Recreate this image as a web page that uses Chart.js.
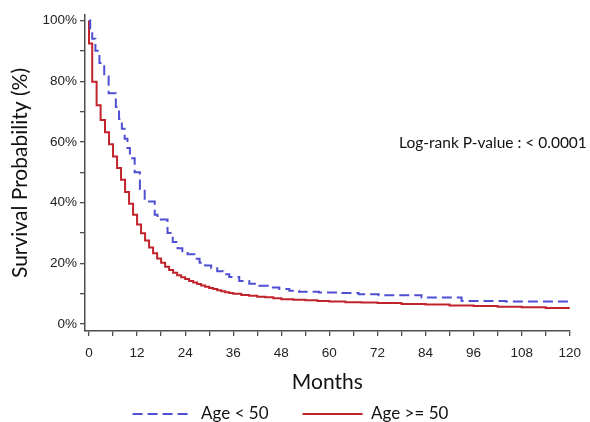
<!DOCTYPE html>
<html>
<head>
<meta charset="utf-8">
<script src="https://cdn.jsdelivr.net/npm/chart.js@4/dist/chart.umd.min.js"></script>
<style>
  body { margin: 0; background: #fff; }
</style>
</head>
<body>
<canvas id="kmChart" width="590" height="422"></canvas>
<script>
// Kaplan-Meier survival (months, survival %)
const youngLabel = 'Age < 50';
const youngMonths = [0, 0.3, 0.8, 1.6, 2.6, 3.8, 4.9, 6.7, 7.5, 8.2, 8.9, 9.6, 10.2, 11.4, 12.7, 13.9, 16.4, 17.1, 19.6, 20.9,
  22.1, 23.3, 24.6, 26.3, 27.6, 29, 30.5, 32, 33.5, 35, 37.5, 40, 42.5, 45, 47.5, 50, 52.4, 57.4, 62, 67.3,
  72.3, 83, 93, 104, 120];
const youngSurv = [100, 97, 94, 90, 86, 81.5, 76, 71.5, 67.5, 64.3, 61, 58, 54.6, 50, 44.5, 40.4, 36, 34.4, 30, 27,
  25, 24, 23, 21.5, 20.2, 19.3, 18.4, 17.4, 16.4, 15.5, 14.2, 13.3, 12.6, 12, 11.5, 11, 10.6, 10.4, 10.2, 9.8,
  9.5, 8.7, 7.6, 7.4, 7.3];

const oldLabel = 'Age >= 50';
const oldMonths = [0, 0, 0.8, 1.9, 2.9, 4, 5, 6, 7, 8, 9, 10, 11, 12, 13, 14, 15, 16, 17, 18, 19, 20,
  21, 22, 23, 24, 25, 26, 27, 28, 29, 30, 31, 32, 33, 34, 35, 36, 38, 40, 42, 44, 46, 48,
  51, 54, 57, 60, 64, 68, 72, 78, 84, 90, 96, 102, 108, 114, 120];
const oldSurv = [100, 92.4, 79.8, 72.1, 67.2, 63.2, 59.2, 55.2, 51.4, 47.5, 43.5, 39.6, 36.0, 32.8, 29.9, 27.5, 25.2, 23.3, 21.6, 20.2, 18.9, 17.8,
  16.9, 16.1, 15.4, 14.8, 14.2, 13.7, 13.2, 12.7, 12.3, 11.9, 11.5, 11.1, 10.8, 10.5, 10.2, 10.0, 9.6, 9.3, 9.0, 8.8, 8.5, 8.2,
  8.0, 7.8, 7.6, 7.4, 7.2, 7.05, 6.9, 6.6, 6.4, 6.1, 5.9, 5.7, 5.5, 5.3, 5.1];

const xTicks = [0, 6, 12, 18, 24, 30, 36, 42, 48, 54, 60, 66, 72, 78, 84, 90, 96, 102, 108, 114, 120];
const yTicks = [0, 10, 20, 30, 40, 50, 60, 70, 80, 90, 100];
const pValueText = 'Log-rank P-value : < 0.0001';

const toPoints = (xs, ys) => xs.map((x, i) => ({ x: x, y: ys[i] }));

const axisColor = '#4d4d4d';
const tickFont = { family: "'Liberation Sans', Arial, sans-serif", size: 13.5 };
const titleFont = { family: 'Lato, sans-serif', size: 21 };

// p-value annotation, placed in data space
const pValuePlugin = {
  id: 'pValue',
  afterDraw(chart) {
    const { ctx, scales } = chart;
    ctx.save();
    ctx.font = '15.5px Lato, sans-serif';
    ctx.fillStyle = '#111';
    ctx.textAlign = 'left';
    ctx.textBaseline = 'middle';
    ctx.fillText(pValueText, scales.x.getPixelForValue(77.4), scales.y.getPixelForValue(59.5));
    ctx.restore();
  }
};

new Chart(document.getElementById('kmChart'), {
  type: 'line',
  data: {
    datasets: [
      {
        label: youngLabel,
        data: toPoints(youngMonths, youngSurv),
        borderColor: '#4f4fd4',
        borderWidth: 2,
        borderDash: [10, 5],
        stepped: true,
        pointRadius: 0,
        fill: false
      },
      {
        label: oldLabel,
        data: toPoints(oldMonths, oldSurv),
        borderColor: '#c0232b',
        borderWidth: 2,
        stepped: true,
        pointRadius: 0,
        fill: false
      }
    ]
  },
  options: {
    responsive: false,
    animation: false,
    layout: { padding: { top: 15, right: 19, bottom: 0, left: 10 } },
    scales: {
      x: {
        type: 'linear',
        min: -1,
        max: 120,
        afterBuildTicks: (scale) => { scale.ticks = xTicks.map(v => ({ value: v })); },
        afterFit: (scale) => { scale.height = 40.5; },
        ticks: {
          autoSkip: false,
          maxRotation: 0,
          padding: 9,
          color: '#222',
          font: tickFont,
          callback: (v) => (v % 12 === 0 ? String(v) : '')
        },
        grid: { drawOnChartArea: false, drawTicks: true, tickLength: 5, color: axisColor, lineWidth: 1.3 },
        border: { display: true, color: axisColor, width: 1.5 },
        title: { display: true, text: 'Months', color: '#111', font: titleFont, padding: { top: 0, bottom: -23 } }
      },
      y: {
        min: -2.3,
        max: 101.8,
        afterBuildTicks: (scale) => { scale.ticks = yTicks.map(v => ({ value: v })); },
        afterFit: (scale) => { scale.width = 75; },
        ticks: {
          autoSkip: false,
          padding: 3,
          color: '#222',
          font: tickFont,
          callback: (v) => (v % 20 === 0 ? v + '%' : '')
        },
        grid: { drawOnChartArea: false, drawTicks: true, tickLength: 5, color: axisColor, lineWidth: 1.3 },
        border: { display: true, color: axisColor, width: 1.5 },
        title: { display: true, text: 'Survival Probability (%)', color: '#111', font: titleFont, padding: { top: -2, bottom: 0 } }
      }
    },
    plugins: {
      legend: {
        position: 'bottom',
        maxHeight: 50.5,
        labels: {
          usePointStyle: true,
          pointStyle: 'line',
          pointStyleWidth: 60,
          padding: 34,
          color: '#111',
          font: { family: 'Lato, sans-serif', size: 17 },
          // keep the dataset dash pattern in the legend line
          generateLabels: (chart) => {
            const items = Chart.defaults.plugins.legend.labels.generateLabels(chart);
            items.forEach((item) => {
              const ds = chart.data.datasets[item.datasetIndex];
              item.lineDash = ds.borderDash || [];
              item.strokeStyle = ds.borderColor;
              item.lineWidth = ds.borderWidth;
            });
            return items;
          }
        }
      },
      tooltip: { enabled: false }
    }
  },
  plugins: [pValuePlugin]
});
</script>
</body>
</html>
